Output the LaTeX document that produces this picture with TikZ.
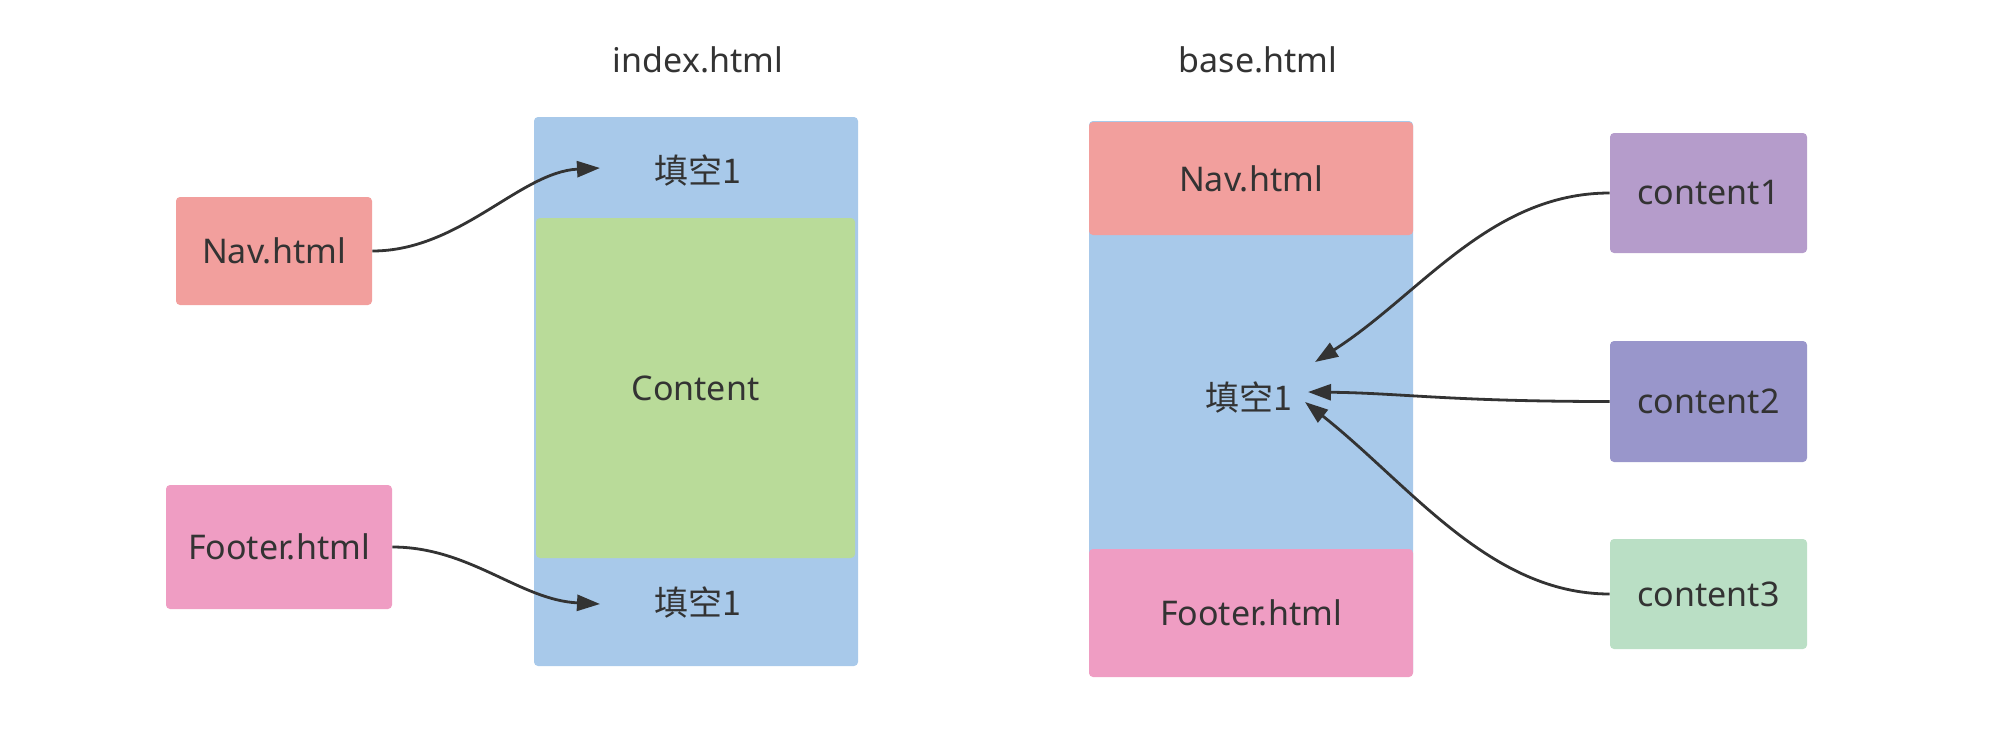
\documentclass[tikz,border=0pt]{standalone}
\usepackage{fontspec}
\setmainfont{Noto Sans}
\newfontfamily\cjk{Noto Sans CJK SC}
\usetikzlibrary{arrows.meta}
\definecolor{txt}{HTML}{333333}
\definecolor{cblue}{HTML}{A8C9EA}
\definecolor{cgreen}{HTML}{B9DB99}
\definecolor{cnav}{HTML}{F29F9D}
\definecolor{cfoot}{HTML}{EF9DC3}
\definecolor{cone}{HTML}{B59CCB}
\definecolor{ctwo}{HTML}{9996CB}
\definecolor{cthree}{HTML}{BADFC5}
\tikzset{
  box/.style={draw=none, rounded corners=2pt, inner sep=0pt, text=txt,
    font=\fontsize{17}{20}\selectfont},
  lbl/.style={inner sep=0pt, text=txt, font=\fontsize{17}{20}\selectfont},
  link/.style={draw=txt, line width=1.4pt,
    -{Triangle[length=11.5pt,width=8pt]}}
}
\begin{document}
\begin{tikzpicture}[x=0.5pt,y=-0.5pt]
\useasboundingbox (0,0) rectangle (2001,729);
% left: index.html
\node[lbl] (ti) at (698,60) {index.html};
\node[box, fill=cblue, minimum width=162pt, minimum height=274.5pt] (idx) at (696,391.5) {};
\node[box, fill=cgreen, minimum width=159.5pt, minimum height=170pt] (cont) at (695.5,388) {Content};
\node[lbl] (f1) at (698,170) {\cjk 填空1};
\node[lbl] (f2) at (698,602) {\cjk 填空1};
\node[box, fill=cnav, minimum width=98pt, minimum height=54pt] (navl) at (274,251) {Nav.html};
\node[box, fill=cfoot, minimum width=113pt, minimum height=62pt] (footl) at (279,547) {Footer.html};
\coordinate (tip1) at (600,168);
\coordinate (tip2) at (600,604);
\draw[link] (navl.east) .. controls (460,251) and (520,172) .. (tip1);
\draw[link] (footl.east) .. controls (470,547) and (520,600) .. (tip2);
% right: base.html
\node[lbl] (tb) at (1258,60) {base.html};
\node[box, fill=cblue, minimum width=162pt, minimum height=277.5pt] (base) at (1251,398.5) {};
\node[box, fill=cnav, minimum width=162pt, minimum height=56.5pt] (navr) at (1251,178.5) {Nav.html};
\node[box, fill=cfoot, minimum width=162pt, minimum height=64pt] (footr) at (1251,613) {Footer.html};
\node[lbl] (f3) at (1249,397) {\cjk 填空1};
\node[box, fill=cone, minimum width=98.5pt, minimum height=60pt] (c1) at (1708.5,193) {content1};
\node[box, fill=ctwo, minimum width=98.5pt, minimum height=60.5pt] (c2) at (1708.5,401.5) {content2};
\node[box, fill=cthree, minimum width=98.5pt, minimum height=55pt] (c3) at (1708.5,594) {content3};
\coordinate (tip3) at (1315,362);
\coordinate (tip4) at (1308,392);
\coordinate (tip5) at (1305,402);
\draw[link] (c1.west) .. controls (1490,193) and (1420,295) .. (tip3);
\draw[link] (c2.west) .. controls (1450,401.5) and (1400,393) .. (tip4);
\draw[link] (c3.west) .. controls (1490,594) and (1410,485) .. (tip5);
\end{tikzpicture}
\end{document}
